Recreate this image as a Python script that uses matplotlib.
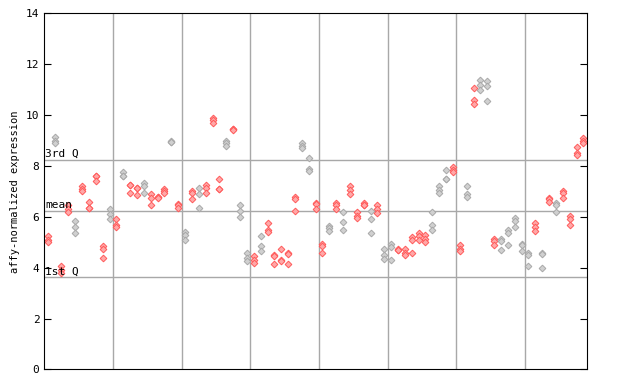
import matplotlib
matplotlib.use('Agg')
import matplotlib.pyplot as plt

# replicate values per sample
valores = [
    [5.25, 5.1, 5.0], [9.15, 9.0, 8.9], [4.05, 3.9, 3.8], [6.45, 6.3, 6.2], [5.85, 5.6, 5.35],
    [7.2, 7.1, 7.0], [6.6, 6.35, 6.35], [7.6, 7.6, 7.4], [4.85, 4.75, 4.4], [6.3, 6.1, 5.9],
    [5.9, 5.7, 5.6], [7.75, 7.6, 7.6], [7.25, 7.25, 6.95], [7.15, 7.15, 6.85], [7.35, 7.2, 6.95],
    [6.9, 6.75, 6.45], [6.8, 6.8, 6.75], [7.1, 7.0, 6.95], [9.0, 8.95, 8.95], [6.5, 6.45, 6.35],
    [5.4, 5.3, 5.1], [7.0, 6.95, 6.7], [7.15, 6.9, 6.35], [7.25, 7.15, 6.95], [9.9, 9.8, 9.7],
    [7.5, 7.1, 7.1], [9.0, 8.9, 8.8], [9.45, 9.45, 9.4], [6.45, 6.25, 6.0], [4.6, 4.4, 4.25],
    [4.45, 4.3, 4.2], [5.25, 4.85, 4.65], [5.75, 5.5, 5.4], [4.5, 4.45, 4.15], [4.75, 4.3, 4.25],
    [4.6, 4.55, 4.15], [6.8, 6.7, 6.25], [8.9, 8.8, 8.7], [8.3, 7.9, 7.8], [6.55, 6.5, 6.3],
    [4.95, 4.85, 4.6], [5.65, 5.55, 5.45], [6.55, 6.45, 6.3], [6.2, 5.8, 5.5], [7.2, 7.05, 6.9],
    [6.2, 6.05, 5.95], [6.55, 6.45, 6.45], [6.25, 5.9, 5.35], [6.45, 6.3, 6.15], [4.75, 4.5, 4.35],
    [4.95, 4.8, 4.3], [4.75, 4.7, 4.7], [4.75, 4.6, 4.5], [5.2, 5.1, 4.6], [5.35, 5.25, 5.1],
    [5.3, 5.15, 5.0], [6.2, 5.7, 5.5], [7.2, 7.05, 6.95], [7.85, 7.5, 7.5], [7.95, 7.85, 7.75],
    [4.9, 4.75, 4.65], [7.2, 6.9, 6.8], [11.05, 10.6, 10.45], [11.4, 11.2, 11.0], [11.35, 11.15, 10.55],
    [5.15, 5.05, 4.9], [5.15, 5.05, 4.7], [5.5, 5.35, 4.9], [5.95, 5.85, 5.6], [4.95, 4.9, 4.65],
    [4.6, 4.5, 4.05], [5.75, 5.6, 5.45], [4.6, 4.55, 4.0], [6.75, 6.7, 6.6], [6.55, 6.45, 6.2],
    [7.0, 6.95, 6.75], [6.05, 5.9, 5.7], [8.75, 8.5, 8.45], [9.1, 9.0, 8.9],
]
cinza = [1, 4, 9, 11, 14, 18, 20, 22, 26, 28, 29, 31, 37, 38, 41, 43, 47, 49, 50, 56,
         57, 58, 61, 63, 64, 66, 67, 68, 69, 70, 72, 74]
tamanho_grupo = 10
q1, media, q3 = 3.63, 6.23, 8.24

fig = plt.figure(figsize=(6.4, 3.84), dpi=100)
ax = fig.add_axes([0.0692, 0.0378, 0.8478, 0.9271])

for i, vals in enumerate(valores):
    if i in cinza:
        cor, face = '#a8a8a8', '#d0d0d0'
    else:
        cor, face = '#ff5a5a', '#ffa8a8'
    ax.plot([i] * len(vals), vals, ls='none', marker='D', ms=3.4,
            mfc=face, mec=cor, mew=0.7)

n = len(valores)
for b in range(tamanho_grupo, n, tamanho_grupo):
    ax.axvline(b - 0.5, color='#a8a8a8', lw=1, zorder=0)
for v, nome in [(q3, '3rd Q'), (media, 'mean'), (q1, '1st Q')]:
    ax.axhline(v, color='#a8a8a8', lw=1, zorder=0)
    ax.text(-0.4, v + 0.03, nome, fontsize=8, family='DejaVu Sans Mono',
            va='bottom', ha='left')

ax.set_xlim(-0.5, n - 0.5)
ax.set_ylim(0, 14)
ax.set_yticks(range(0, 15, 2))
ax.set_xticks([])
ax.tick_params(axis='y', direction='in', length=5, right=True, labelsize=8)
for lab in ax.get_yticklabels():
    lab.set_family('DejaVu Sans Mono')
ax.set_ylabel('affy-normalized expression', fontsize=7.5, family='DejaVu Sans Mono')

plt.savefig('out.png', dpi=100)
